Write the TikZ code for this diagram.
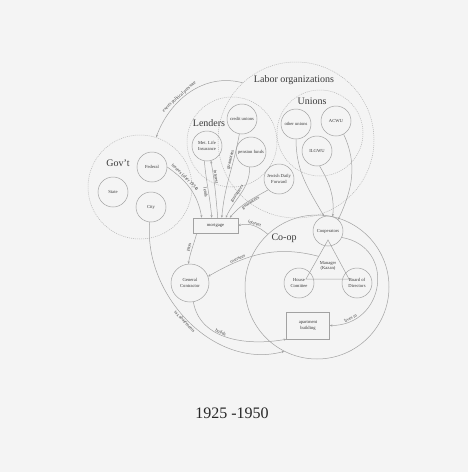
\documentclass[tikz,border=0pt]{standalone}
\usepackage{fontspec}
\setmainfont{Liberation Serif}
\usetikzlibrary{arrows.meta,calc}
\definecolor{bg}{HTML}{F4F4F4}
\definecolor{ln}{HTML}{A2A2A2}
\definecolor{tx}{HTML}{3A3A3A}
\begin{document}
\begin{tikzpicture}[x=1pt,y=1pt,
  sm/.style={circle,draw=ln,line width=0.5pt,minimum size=30pt,inner sep=0pt,align=center,text=tx,font=\fontsize{4.6}{5.4}\selectfont},
  grp/.style={circle,draw=ln!80,line width=0.5pt,dash pattern=on 1pt off 1pt,inner sep=0pt},
  big/.style={text=tx,font=\fontsize{10}{12}\selectfont,inner sep=0pt},
  box/.style={draw=ln,line width=0.5pt,inner sep=0pt,align=center,text=tx,font=\fontsize{4.6}{5.4}\selectfont},
  con/.style={draw=ln,line width=0.5pt,-{Stealth[length=2.6pt,width=2.2pt]}},
  lab/.style={font=\fontsize{4.6}{5.4}\selectfont,text=tx,sloped,inner sep=0.8pt}]
\fill[bg] (0,0) rectangle (468,-472);
\useasboundingbox (0,0) rectangle (468,-472);
% group circles
\node[grp,minimum size=104pt] (govc) at (140,-187) {};
\node[grp,minimum size=156pt] (laborc) at (296,-140) {};
\node[grp,minimum size=90pt] (lendc) at (232,-142) {};
\node[grp,minimum size=86pt] (unionc) at (320,-133) {};
\node[circle,draw=ln,line width=0.5pt,minimum size=144pt,inner sep=0pt] (coop) at (317,-287) {};
% group labels
\node[big] (laborlab) at (294,-80) {Labor organizations};
\node[big] (unionlab) at (312,-101) {Unions};
\node[big] (lendlab) at (209,-123) {Lenders};
\node[big] (govlab) at (118,-163) {Gov't};
\node[big] (cooplab) at (284,-238) {Co-op};
% entities
\node[sm] (federal) at (152,-167) {Federal};
\node[sm] (state) at (113,-192) {State};
\node[sm] (city) at (151,-207) {City};
\node[sm] (metlife) at (207,-146) {Met. Life\\Insurance};
\node[sm] (credit) at (242,-119) {credit unions};
\node[sm] (pension) at (251,-152) {pension funds};
\node[sm] (jdf) at (279,-179) {Jewish Daily\\Forward};
\node[sm] (othunions) at (296,-124) {other unions};
\node[sm] (acwu) at (336,-121) {ACWU};
\node[sm] (ilgwu) at (317,-151) {ILGWU};
\node[sm] (cooperators) at (328,-231) {Cooperators};
\node[sm] (house) at (299,-283) {House\\Comittee};
\node[sm] (board) at (357,-283) {Board of\\Directors};
\node[sm,minimum size=38pt] (gc) at (190,-283) {General\\Contractor};
\node[box,minimum width=45pt,minimum height=15pt] (mortgage) at (215.5,-225.5) {mortgage};
\node[box,minimum width=43pt,minimum height=27pt] (apt) at (308,-325.5) {apartment\\building};
% manager triangle
\coordinate (tapex) at (328,-240);
\coordinate (tleft) at (306,-279);
\coordinate (tright) at (349,-279);
\draw[ln,line width=0.5pt] (tapex) -- (tleft) -- (tright) -- cycle;
\node[text=tx,align=center,font=\fontsize{4.6}{5.4}\selectfont] (manager) at (328,-266) {Manager\\(Kazan)};
\coordinate (tedge) at ($(tapex)!0.42!(tleft)$);
% connectors
\draw[con] (laborc.133) to[out=165,in=70] node[lab,pos=0.6,above]{exerts political pressure} (govc.72);
\draw[con] (federal.0) to[out=-35,in=100] node[lab,pos=0.3,above]{insures (after 1934)} ([xshift=9pt]mortgage.north west);
\draw[con] (metlife.-100) to[out=-85,in=95] node[lab,pos=0.55,below]{lends} ([xshift=19pt]mortgage.north west);
\draw[con] ([xshift=25pt]mortgage.north west) to[out=95,in=-80] node[lab,pos=0.72,above]{interest} (metlife.-75);
\draw[con] (credit.-100) to[out=-100,in=85] node[lab,pos=0.3,above]{guarantees} ([xshift=29pt]mortgage.north west);
\draw[con] (pension.-95) to[out=-90,in=65] node[lab,pos=0.55,above]{guarantees} ([xshift=33pt]mortgage.north west);
\draw[con] (jdf.225) to[out=210,in=50] node[lab,pos=0.45,below]{guarantees} ([xshift=37pt]mortgage.north west);
\draw[con] (coop.133) to[out=140,in=15] node[lab,pos=0.5,above]{interest} (mortgage.east);
\draw[con] ([xshift=4pt]mortgage.south west) to[out=-105,in=80] node[lab,pos=0.5,above]{pays} (gc.95);
\draw[con] (tedge) to[out=165,in=30] node[lab,pos=0.72,above]{oversees} (gc.20);
\draw[con] (othunions.-90) to[out=-90,in=120] (cooperators.105);
\draw[con] (ilgwu.-80) to[out=-60,in=85] (cooperators.72);
\draw[con] (acwu.-60) to[out=-65,in=65] (cooperators.48);
\draw[con] (cooperators.-25) to[out=-10,in=0,looseness=1.6] node[lab,pos=0.85,above]{lives in} (apt.east);
\draw[con] (gc.-80) to[out=-80,in=190] node[lab,pos=0.42,above]{builds} (apt.south west);
\draw[con] (city.-95) to[out=-95,in=195] node[lab,pos=0.49,below]{tax abatements} (coop.-117);
% title
\node[text=black!85,font=\fontsize{16}{18}\selectfont] (title) at (232,-413) {1925 -1950};
\end{tikzpicture}
\end{document}
